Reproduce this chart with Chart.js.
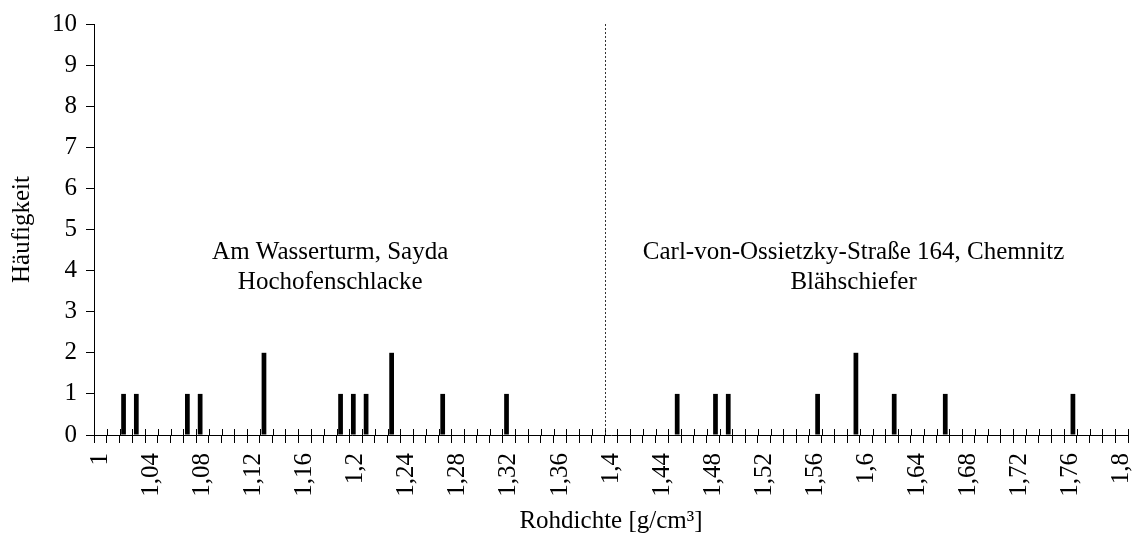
<!DOCTYPE html>
<html>
<head>
<meta charset="utf-8">
<script src="https://cdn.jsdelivr.net/npm/chart.js@4"></script>
<style>
  body { margin: 0; background: #fff; }
  #wrap { width: 1134px; height: 536px; }
</style>
</head>
<body>
<div id="wrap"><canvas id="myChart"></canvas></div>
<script>
// Rohdichte-Klassen (Kategorien der x-Achse)
const dichte = [
  '1', '1,01', '1,02', '1,03', '1,04', '1,05', '1,06', '1,07', '1,08', '1,09',
  '1,1', '1,11', '1,12', '1,13', '1,14', '1,15', '1,16', '1,17', '1,18', '1,19',
  '1,2', '1,21', '1,22', '1,23', '1,24', '1,25', '1,26', '1,27', '1,28', '1,29',
  '1,3', '1,31', '1,32', '1,33', '1,34', '1,35', '1,36', '1,37', '1,38', '1,39',
  '1,4', '1,41', '1,42', '1,43', '1,44', '1,45', '1,46', '1,47', '1,48', '1,49',
  '1,5', '1,51', '1,52', '1,53', '1,54', '1,55', '1,56', '1,57', '1,58', '1,59',
  '1,6', '1,61', '1,62', '1,63', '1,64', '1,65', '1,66', '1,67', '1,68', '1,69',
  '1,7', '1,71', '1,72', '1,73', '1,74', '1,75', '1,76', '1,77', '1,78', '1,79',
  '1,8'
]
const tickLabels = ['1', '1,04', '1,08', '1,12', '1,16', '1,2', '1,24', '1,28', '1,32', '1,36',
  '1,4', '1,44', '1,48', '1,52', '1,56', '1,6', '1,64', '1,68', '1,72', '1,76', '1,8']

// Am Wasserturm, Sayda - Hochofenschlacke
const saydaDichte = ['1,02', '1,03', '1,07', '1,08', '1,13', '1,19', '1,2', '1,21', '1,23', '1,27', '1,32']
const saydaAnzahl = [1, 1, 1, 1, 2, 1, 1, 1, 2, 1, 1]

// Carl-von-Ossietzky-Straße 164, Chemnitz - Blähschiefer
const chemnitzDichte = ['1,45', '1,48', '1,49', '1,56', '1,59', '1,62', '1,66', '1,76']
const chemnitzAnzahl = [1, 1, 1, 1, 2, 1, 1, 1]

const yTicks = [0, 1, 2, 3, 4, 5, 6, 7, 8, 9, 10]

function haeufigkeit(werte, anzahl) {
  return dichte.map(d => {
    const i = werte.indexOf(d)
    return i >= 0 ? anzahl[i] : null
  })
}

const FONT = "'Liberation Serif', 'Times New Roman', serif"

const extras = {
  id: 'extras',
  afterDraw(chart) {
    const { ctx, chartArea, scales: { x, y } } = chart
    const step = x.getPixelForValue(1) - x.getPixelForValue(0)
    ctx.save()
    // Teilstriche oberhalb der x-Achse
    ctx.strokeStyle = '#000'
    ctx.lineWidth = 1
    ctx.beginPath()
    for (let i = 0; i <= dichte.length; i++) {
      const px = Math.round(x.getPixelForValue(i) - step / 2) + 0.5
      ctx.moveTo(px, chartArea.bottom - 6)
      ctx.lineTo(px, chartArea.bottom)
    }
    ctx.stroke()

    // gestrichelte Trennlinie zwischen den beiden Proben
    const sx = Math.round(x.getPixelForValue(dichte.indexOf('1,4')) - step / 2) + 0.5
    ctx.strokeStyle = '#333'
    ctx.setLineDash([2, 2])
    ctx.beginPath()
    ctx.moveTo(sx, chartArea.top)
    ctx.lineTo(sx, chartArea.bottom)
    ctx.stroke()
    ctx.setLineDash([])

    // Beschriftung der Proben
    ctx.fillStyle = '#000'
    ctx.font = '25px ' + FONT
    ctx.textAlign = 'center'
    ctx.textBaseline = 'middle'
    const lx = x.getPixelForValue(dichte.indexOf('1,18'))
    const rx = x.getPixelForValue(dichte.indexOf('1,59'))
    ctx.fillText('Am Wasserturm, Sayda', lx, y.getPixelForValue(4.45))
    ctx.fillText('Hochofenschlacke', lx, y.getPixelForValue(3.72))
    ctx.fillText('Carl-von-Ossietzky-Straße 164, Chemnitz', rx, y.getPixelForValue(4.45))
    ctx.fillText('Blähschiefer', rx, y.getPixelForValue(3.72))
    ctx.restore()
  }
}

window.onload = function () {
  const ctx = document.getElementById('myChart')
  new Chart(ctx, {
    type: 'bar',
    data: {
      labels: dichte,
      datasets: [{
        label: 'Am Wasserturm, Sayda',
        data: haeufigkeit(saydaDichte, saydaAnzahl),
        backgroundColor: '#000',
        borderWidth: 0
      }, {
        label: 'Carl-von-Ossietzky-Straße 164, Chemnitz',
        data: haeufigkeit(chemnitzDichte, chemnitzAnzahl),
        backgroundColor: '#000',
        borderWidth: 0
      }]
    },
    options: {
      responsive: true,
      maintainAspectRatio: false,
      animation: false,
      categoryPercentage: 0.74,
      barPercentage: 1,
      layout: { padding: { top: 24, right: 6, left: 0, bottom: 0 } },
      plugins: {
        legend: { display: false },
        tooltip: { enabled: false }
      },
      scales: {
        x: {
          offset: true,
          afterFit: s => {
            s.height = 101
            s.paddingLeft = 0
            s.paddingRight = 0
          },
          border: { color: '#000', width: 1 },
          grid: { offset: true, drawOnChartArea: false, tickLength: 8, color: '#000' },
          ticks: {
            autoSkip: false,
            maxRotation: 90,
            minRotation: 90,
            padding: 10,
            color: '#000',
            font: { family: FONT, size: 25 },
            callback: function (v, i) {
              const l = dichte[i]
              return tickLabels.includes(l) ? l : ''
            }
          },
          title: {
            display: true,
            text: 'Rohdichte [g/cm³]',
            color: '#000',
            font: { family: FONT, size: 25 },
            padding: { top: 0, bottom: 0 }
          }
        },
        y: {
          min: yTicks[0],
          max: yTicks[yTicks.length - 1],
          afterFit: s => { s.width = 94 },
          border: { color: '#000', width: 1 },
          grid: { drawOnChartArea: false, tickLength: 8, color: '#000' },
          ticks: {
            stepSize: 1,
            padding: 9,
            color: '#000',
            font: { family: FONT, size: 25 }
          },
          title: {
            display: true,
            text: 'Häufigkeit',
            color: '#000',
            font: { family: FONT, size: 25 },
            padding: { top: 7, bottom: 0 }
          }
        }
      }
    },
    plugins: [extras]
  })
}
</script>
</body>
</html>
